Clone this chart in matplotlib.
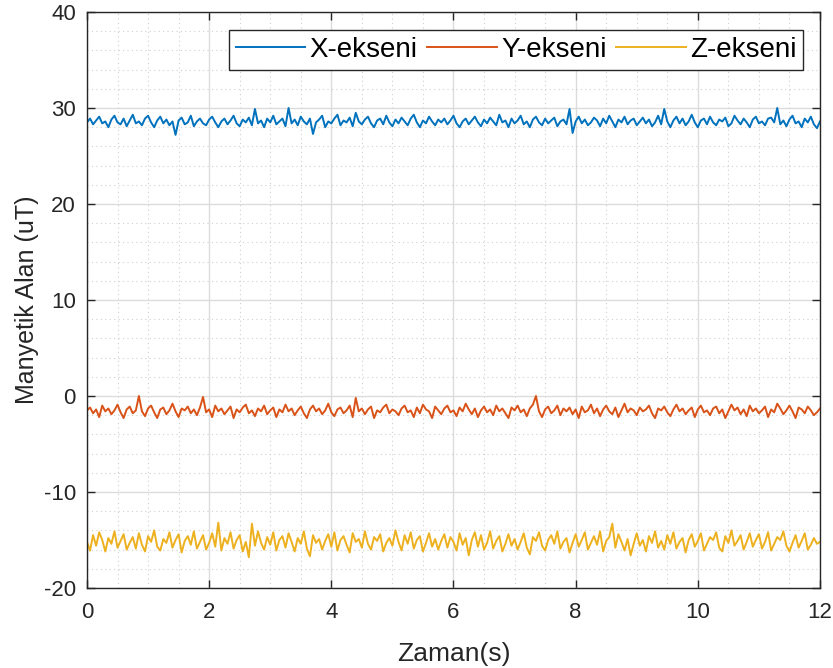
import numpy as np
import matplotlib
matplotlib.use("Agg")
import matplotlib.pyplot as plt
from matplotlib.ticker import MultipleLocator

# sampled magnetic field readings (uT), one row = 1 s at dt = 0.05 s
dt = 0.05

x_ekseni = [
    28.5, 28.9, 28.3, 28.7, 29.1, 28.4, 28.6, 28.0, 28.8, 29.2, 28.5, 28.3, 28.9, 28.1, 28.7, 29.3, 28.4, 28.6, 28.2, 28.9,
    29.2, 28.5, 28.0, 28.7, 29.1, 28.4, 28.8, 28.2, 28.6, 27.2, 28.7, 29.0, 28.3, 28.5, 29.2, 28.1, 28.6, 28.9, 28.4, 28.2,
    28.8, 29.1, 28.5, 28.0, 28.6, 28.9, 28.3, 28.7, 29.2, 28.4, 28.1, 28.8, 28.5, 29.0, 28.2, 29.9, 28.4, 28.7, 28.0, 28.9,
    28.5, 29.2, 28.3, 28.6, 28.9, 28.1, 30.0, 28.4, 28.8, 28.2, 29.1, 28.6, 28.3, 28.9, 27.3, 28.5, 28.8, 29.2, 28.0, 28.6,
    28.4, 28.9, 29.3, 28.2, 28.7, 28.5, 29.0, 28.1, 29.5, 28.6, 28.3, 28.8, 29.1, 28.4, 28.0, 28.7, 28.9, 28.3, 29.2, 28.5,
    28.1, 28.8, 28.4, 29.0, 28.6, 28.2, 28.9, 29.3, 28.5, 28.0, 28.7, 28.4, 29.1, 28.6, 28.2, 28.8, 28.5, 28.9, 28.3, 28.7,
    29.2, 28.4, 28.0, 28.6, 28.9, 28.3, 28.7, 29.1, 28.5, 28.1, 28.8, 28.4, 29.0, 28.6, 28.2, 29.3, 28.5, 28.7, 28.0, 28.9,
    28.4, 28.7, 29.2, 28.3, 28.6, 28.0, 28.8, 29.1, 28.5, 28.2, 28.9, 28.4, 28.7, 29.0, 28.1, 28.6, 28.8, 28.3, 29.9, 27.4,
    28.6, 29.1, 28.4, 28.8, 28.2, 28.5, 29.0, 28.7, 28.1, 28.9, 28.4, 29.2, 28.6, 28.0, 28.8, 28.5, 29.1, 28.3, 28.7, 28.9,
    28.2, 28.6, 29.0, 28.4, 28.8, 28.1, 28.5, 29.2, 28.3, 29.9, 28.6, 28.0, 28.7, 29.1, 28.4, 28.9, 28.2, 28.6, 29.3, 28.5,
    28.0, 28.7, 28.9, 28.3, 29.1, 28.5, 28.2, 28.8, 28.6, 29.0, 28.1, 28.4, 29.2, 28.7, 28.3, 28.9, 28.5, 28.0, 28.8, 29.1,
    28.4, 28.6, 28.2, 28.9, 29.0, 28.5, 30.0, 28.3, 28.7, 28.1, 28.8, 29.2, 28.4, 28.6, 28.0, 28.9, 28.5, 29.1, 28.3, 27.9,
    28.6,
]

y_ekseni = [
    -1.5, -1.2, -1.8, -1.4, -2.2, -1.0, -1.6, -1.3, -1.9, -1.5, -0.9, -1.7, -2.3, -1.4, -1.1, -1.8, -1.5, 0.0, -1.6, -2.1,
    -1.3, -1.0, -1.7, -2.3, -1.4, -1.2, -1.9, -1.5, -0.8, -1.6, -2.2, -1.3, -1.5, -1.1, -1.8, -1.4, -2.0, -1.2, -0.1, -1.7,
    -1.4, -2.2, -1.0, -1.6, -1.3, -1.9, -1.5, -1.1, -2.3, -1.4, -1.7, -1.2, -0.9, -1.8, -1.5, -2.1, -1.3, -1.6, -1.0, -1.9,
    -1.5, -1.2, -2.2, -1.4, -1.7, -0.9, -1.6, -1.3, -2.0, -1.5, -1.1, -1.8, -2.3, -1.4, -1.0, -1.6, -1.3, -1.9, -1.5, -0.8,
    -1.7, -2.1, -1.4, -1.2, -1.8, -1.5, -1.0, -2.2, -0.2, -1.6, -1.3, -1.9, -1.4, -1.1, -2.3, -1.5, -1.7, -1.2, -0.9, -1.8,
    -1.4, -1.6, -2.0, -1.3, -1.0, -1.7, -1.5, -2.2, -1.2, -1.8, -0.9, -1.4, -1.6, -2.3, -1.1, -1.5, -1.9, -1.3, -1.0, -1.7,
    -1.5, -2.1, -1.2, -1.6, -0.8, -1.4, -1.9, -1.3, -2.2, -1.5, -1.1, -1.7, -1.4, -2.0, -1.0, -1.6, -1.3, -1.8, -2.3, -1.2,
    -1.5, -1.0, -1.7, -1.4, -2.1, -1.3, -0.9, 0.0, -1.6, -2.2, -1.4, -1.1, -1.8, -1.5, -1.0, -2.0, -1.3, -1.6, -1.2, -1.9,
    -1.4, -2.3, -1.1, -1.7, -1.5, -0.9, -1.8, -1.3, -2.1, -1.4, -1.0, -1.6, -1.9, -1.2, -2.2, -1.5, -0.8, -1.7, -1.3, -1.5,
    -2.0, -1.2, -1.6, -1.4, -1.0, -1.8, -2.3, -1.3, -1.5, -1.1, -1.7, -2.1, -1.4, -0.9, -1.6, -1.3, -1.9, -1.5, -1.2, -2.2,
    -1.4, -1.0, -1.7, -1.5, -2.0, -1.3, -1.1, -1.8, -1.4, -2.3, -1.6, -0.9, -1.5, -1.2, -1.9, -1.4, -2.1, -1.0, -1.6, -1.3,
    -1.8, -1.5, -1.1, -2.2, -1.4, -1.7, -0.8, -1.3, -1.9, -1.5, -1.0, -1.6, -2.3, -1.2, -1.4, -1.8, -1.1, -1.5, -2.0, -1.7,
    -1.3,
]

z_ekseni = [
    -15.2, -16.1, -14.5, -15.6, -14.2, -15.0, -16.2, -14.8, -15.4, -14.1, -15.8, -15.1, -14.4, -16.0, -15.3, -14.7, -15.9, -14.3, -15.5, -16.2,
    -14.6, -15.2, -14.0, -15.7, -16.1, -14.9, -15.3, -14.2, -15.8, -15.0, -14.4, -16.3, -15.1, -14.6, -15.5, -14.1, -15.9, -15.2, -14.5, -16.0,
    -15.3, -14.3, -15.7, -13.2, -16.1, -14.8, -15.4, -14.2, -15.9, -15.0, -14.5, -16.2, -15.2, -16.8, -13.3, -15.6, -14.1, -15.3, -16.0, -14.7,
    -15.5, -14.2, -16.1, -15.0, -14.6, -15.8, -14.3, -15.2, -16.2, -14.8, -15.4, -14.1, -15.9, -16.7, -14.5, -15.3, -14.9, -16.0, -15.1, -14.4,
    -15.7, -14.2, -16.1, -15.0, -14.6, -15.5, -16.3, -14.3, -15.2, -14.9, -15.8, -14.1, -15.4, -16.0, -14.7, -15.1, -14.4, -16.2, -15.3, -14.8,
    -15.6, -14.0, -15.2, -16.1, -14.5, -15.4, -14.2, -15.9, -15.0, -14.6, -16.2, -15.3, -14.3, -15.7, -14.9, -16.0, -15.1, -14.4, -15.8, -14.7,
    -15.2, -16.1, -14.3, -15.5, -14.8, -16.6, -15.0, -14.2, -15.7, -14.5, -16.0, -15.3, -14.1, -15.9, -15.1, -14.6, -16.2, -15.4, -14.4, -15.6,
    -14.9, -16.0, -15.2, -14.3, -15.8, -16.5, -14.7, -15.1, -14.2, -15.6, -16.1, -15.0, -14.5, -15.4, -14.1, -15.9, -15.2, -14.8, -16.3, -15.3,
    -14.4, -15.7, -15.0, -14.2, -16.0, -15.3, -14.6, -15.5, -14.1, -16.2, -15.1, -14.7, -13.3, -15.8, -14.4, -15.2, -16.1, -14.9, -16.6, -15.4,
    -14.3, -15.6, -15.0, -16.2, -14.6, -15.3, -14.1, -15.8, -15.1, -16.0, -14.5, -15.4, -14.2, -15.9, -15.2, -14.8, -16.3, -15.0, -14.4, -15.7,
    -15.1, -14.3, -16.1, -15.4, -14.7, -15.0, -14.2, -15.8, -16.2, -14.6, -15.3, -14.0, -15.6, -15.1, -14.5, -16.0, -15.2, -14.3, -15.7, -15.0,
    -14.4, -15.9, -15.2, -14.2, -16.1, -15.4, -14.7, -15.0, -14.1, -15.6, -16.2, -15.3, -14.5, -15.8, -15.1, -14.3, -16.0, -15.5, -14.8, -15.4,
    -15.2,
]

etiketler = ['X-ekseni', 'Y-ekseni', 'Z-ekseni']
renkler = ['#0072BD', '#D95319', '#EDB120']

zaman = np.arange(len(x_ekseni)) * dt

plt.rcParams['font.family'] = ['Liberation Sans', 'DejaVu Sans']
plt.rcParams['axes.unicode_minus'] = False

fig = plt.figure(figsize=(8.33, 6.68), dpi=100)
ax = fig.add_axes([0.1044, 0.1198, 0.88, 0.8622])

for seri, ad, renk in zip([x_ekseni, y_ekseni, z_ekseni], etiketler, renkler):
    ax.plot(zaman, seri, color=renk, linewidth=1.4, label=ad)

ax.set_xlim(0, 12)
ax.set_ylim(-20, 40)
ax.xaxis.set_major_locator(MultipleLocator(2))
ax.xaxis.set_minor_locator(MultipleLocator(0.5))
ax.yaxis.set_major_locator(MultipleLocator(10))
ax.yaxis.set_minor_locator(MultipleLocator(2))

ax.grid(True, which='major', color='#dcdcdc', linewidth=1.0)
ax.grid(True, which='minor', color='#d0d0d0', linestyle=(0, (1, 3)), linewidth=0.8)
ax.set_axisbelow(True)

ax.tick_params(which='major', direction='in', length=6, width=1, color='#262626',
               labelsize=16, labelcolor='#262626', top=True, right=True)
ax.tick_params(axis='x', which='major', pad=10)
ax.tick_params(axis='y', which='major', pad=8)
ax.tick_params(which='minor', length=0, top=True, right=True)
for s in ax.spines.values():
    s.set_color('#262626')
    s.set_linewidth(1.0)

ax.set_xlabel('Zaman(s)', fontsize=19, color='#262626', labelpad=14)
ax.set_ylabel('Manyetik Alan (uT)', fontsize=18, color='#262626', labelpad=3)

leg = ax.legend(loc='upper right', ncol=3, fontsize=20, handlelength=2.5,
                handletextpad=0.15, columnspacing=0.35, borderpad=0.25,
                borderaxespad=0, fancybox=False, framealpha=1,
                bbox_to_anchor=(0.977, 0.969))
leg.get_frame().set_edgecolor('#262626')
leg.get_frame().set_linewidth(1.0)

fig.savefig('out.png', dpi=100)
